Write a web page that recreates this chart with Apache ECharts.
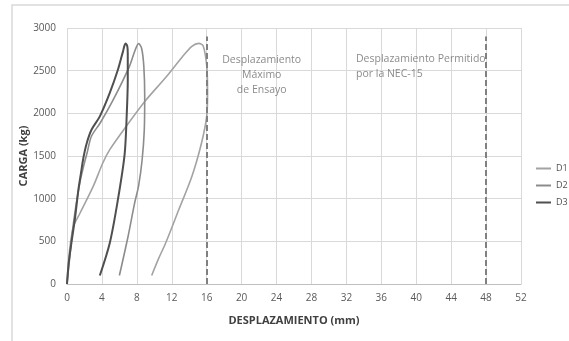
<!DOCTYPE html>
<html>
<head>
<meta charset="utf-8">
<script src="https://cdn.jsdelivr.net/npm/echarts@6/dist/echarts.min.js"></script>
<style>
  html, body { margin: 0; padding: 0; background: #fff; }
  #chart { width: 569px; height: 341px; }
</style>
</head>
<body>
<div id="chart"></div>
<script>
// curvas carga-desplazamiento [mm, kg]
const d1 = [[0,0],[0.3,400],[0.75,675],[1.5,832],[3.0,1144],[4.1,1418],[4.9,1574],[6.8,1850],[9.0,2150],[11.3,2420],[13.2,2660],[14.3,2785],[15.1,2820],[15.6,2790],[16.0,2560],[16.1,2240],[16.0,1965],[15.4,1650],[14.3,1260],[12.8,870],[11.3,480],[10.5,300],[9.7,100]];
const d2 = [[0,0],[0.3,300],[0.6,600],[1.0,900],[1.5,1200],[2.0,1420],[2.3,1536],[2.8,1731],[3.8,1887],[5.3,2160],[7.15,2551],[7.8,2740],[8.2,2817],[8.55,2760],[8.8,2550],[8.9,2200],[8.85,1800],[8.6,1450],[8.2,1150],[7.75,950],[7.0,560],[6.0,100]];
const d3 = [[0,0],[0.2,250],[0.56,520],[0.94,790],[1.3,1100],[1.6,1300],[1.88,1480],[2.26,1650],[2.82,1810],[3.76,1965],[4.9,2240],[5.83,2510],[6.4,2720],[6.7,2817],[6.9,2790],[6.96,2700],[6.96,2394],[6.85,2005],[6.6,1520],[5.83,988],[4.9,481],[3.76,100]];

const limites = [16, 48];
const notas = [
  { pos: [22.3, 2450], text: 'Desplazamiento\nMáximo\nde Ensayo', align: 'center' },
  { pos: [33.1, 2545], text: 'Desplazamiento Permitido\npor la NEC-15', align: 'left' }
];

const chart = echarts.init(document.getElementById('chart'));
const FONT = 'Open Sans';

const option = {
  animation: false,
  textStyle: { fontFamily: FONT },
  graphic: [{
    type: 'rect',
    shape: { x: 12, y: 5, width: 620, height: 400 },
    style: { fill: 'none', stroke: '#d9d9d9', lineWidth: 1.5 },
    z: -1
  }],
  grid: { left: 67, right: 48, top: 28, bottom: 57 },
  legend: {
    orient: 'vertical',
    left: 531,
    top: 159,
    icon: 'rect',
    itemWidth: 15,
    itemHeight: 2,
    itemGap: 8,
    data: ['D1', 'D2', 'D3'],
    textStyle: { fontSize: 9, color: '#505050', fontFamily: FONT }
  },
  xAxis: {
    type: 'value',
    min: 0, max: 52, interval: 4,
    name: 'DESPLAZAMIENTO (mm)',
    nameLocation: 'middle',
    nameGap: 31,
    nameTextStyle: { fontSize: 11, fontWeight: 'bold', color: '#404040' },
    axisLine: { show: true, lineStyle: { color: '#bfbfbf' } },
    axisTick: { show: false },
    axisLabel: { fontSize: 10, color: '#595959', margin: 9 },
    splitLine: { show: true, lineStyle: { color: '#d9d9d9' } }
  },
  yAxis: {
    type: 'value',
    min: 0, max: 3000, interval: 500,
    name: 'CARGA (kg)',
    nameLocation: 'middle',
    nameGap: 38,
    nameMoveOverlap: false,
    nameTextStyle: { fontSize: 11, fontWeight: 'bold', color: '#404040' },
    axisLine: { show: false },
    axisTick: { show: false },
    axisLabel: { fontSize: 10, color: '#595959', margin: 11, formatter: v => String(v) },
    splitLine: { show: true, lineStyle: { color: '#d9d9d9' } }
  },
  series: [
    {
      name: 'D1', type: 'line', data: d1, smooth: 0.3, symbol: 'none',
      lineStyle: { color: '#a3a3a3', width: 1.6 }, itemStyle: { color: '#a3a3a3' },
      markLine: {
        silent: true, symbol: 'none',
        label: { show: false },
        lineStyle: { color: '#808080', type: [6, 3], width: 2 },
        data: limites.map(v => [{ coord: [v, 0] }, { coord: [v, 2900] }])
      }
    },
    {
      name: 'D2', type: 'line', data: d2, smooth: 0.3, symbol: 'none',
      lineStyle: { color: '#8c8c8c', width: 1.6 }, itemStyle: { color: '#8c8c8c' }
    },
    {
      name: 'D3', type: 'line', data: d3, smooth: 0.3, symbol: 'none',
      lineStyle: { color: '#4f4f4f', width: 2 }, itemStyle: { color: '#4f4f4f' }
    },
    {
      name: 'notas', type: 'scatter', symbolSize: 0, silent: true,
      data: notas.map(n => ({
        value: n.pos,
        label: {
          show: true, position: 'inside', formatter: n.text,
          align: n.align, verticalAlign: 'middle',
          fontSize: 10.5, lineHeight: 15, color: '#6e6e6e', fontFamily: FONT
        }
      }))
    }
  ]
};

chart.setOption(option);
</script>
</body>
</html>
